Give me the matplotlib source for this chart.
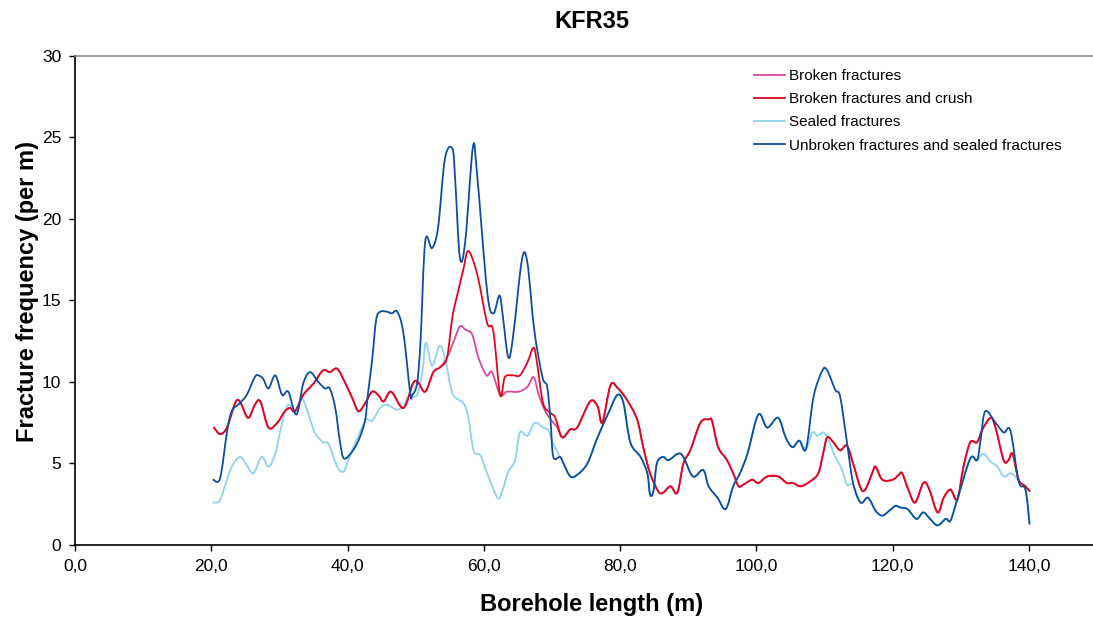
import matplotlib
matplotlib.use("Agg")
import numpy as np
import matplotlib.pyplot as plt
from matplotlib.path import Path
from matplotlib.patches import PathPatch
from matplotlib.lines import Line2D
from matplotlib.ticker import FuncFormatter

plt.rcParams['font.family'] = ['Liberation Sans', 'DejaVu Sans']

# Broken fractures and crush
crush_x = [20.4, 21.3, 22.3, 23.5, 24.2, 25.4, 26.4, 27.2, 28.4, 29.7, 30.8, 31.6, 32.3, 33.5,
           35.0, 36.4, 37.4, 38.5, 39.7, 40.7, 41.6, 42.6, 43.6, 44.5, 45.3, 46.4, 48.2, 49.6,
           50.3, 51.4, 52.6, 53.6, 54.6, 55.4, 56.2, 57.0, 57.6, 58.3, 59.2, 60.5, 61.4, 62.4,
           63.1, 64.3, 65.3, 66.4, 67.3, 67.8, 68.7, 69.8, 70.5, 71.5, 72.7, 73.7, 75.6, 76.7,
           77.4, 78.6, 79.7, 81.0, 82.5, 83.4, 84.4, 85.6, 86.3, 87.4, 88.4, 89.3, 90.3, 91.8,
           93.0, 93.5, 94.4, 95.7, 96.7, 97.4, 98.1, 99.4, 100.3, 101.6, 103.2, 104.5, 105.4,
           106.5, 107.9, 109.1, 109.8, 110.4, 111.3, 112.3, 113.3, 114.2, 115.3, 116.0, 117.0,
           117.5, 118.5, 120.0, 120.9, 121.4, 122.3, 123.3, 124.5, 125.3, 126.6, 127.5, 128.5,
           129.5, 130.4, 131.4, 132.4, 133.2, 134.4, 135.1, 136.3, 137.0, 137.6, 138.5, 139.5, 140.1]
crush_y = [7.2, 6.8, 7.2, 8.7, 8.8, 7.8, 8.6, 8.8, 7.2, 7.5, 8.2, 8.4, 8.2, 9.2,
           9.9, 10.7, 10.6, 10.8, 9.9, 9.0, 8.2, 8.7, 9.4, 9.2, 8.8, 9.4, 8.4, 9.9,
           10.0, 9.4, 10.6, 10.9, 11.5, 14.0, 15.5, 16.9, 18.0, 17.6, 16.3, 13.6, 13.1, 9.2,
           10.3, 10.4, 10.4, 11.2, 12.1, 11.2, 8.7, 8.1, 7.8, 6.6, 7.1, 7.2, 8.8, 8.5,
           7.5, 9.8, 9.6, 8.9, 7.7, 6.0, 4.4, 3.3, 3.2, 3.6, 3.2, 5.0, 5.8, 7.5,
           7.7, 7.6, 6.0, 5.2, 4.3, 3.6, 3.7, 4.0, 3.8, 4.2, 4.2, 3.8, 3.8,
           3.6, 3.9, 4.4, 5.6, 6.6, 6.3, 5.8, 6.1, 5.0, 3.5, 3.4, 4.4,
           4.8, 4.0, 4.0, 4.3, 4.4, 3.4, 2.6, 3.8, 3.5, 2.0, 2.9, 3.4,
           2.8, 4.8, 6.3, 6.3, 7.1, 7.8, 7.2, 5.2, 5.2, 5.6, 4.0, 3.6, 3.3]

# Broken fractures
broken_x = [20.4, 21.3, 22.3, 23.5, 24.2, 25.4, 26.4, 27.2, 28.4, 29.7, 30.8, 31.6, 32.3, 33.5,
            35.0, 36.4, 37.4, 38.5, 39.7, 40.7, 41.6, 42.6, 43.6, 44.5, 45.3, 46.4, 48.2, 49.6,
            50.3, 51.4, 52.6, 53.6, 54.6, 55.5, 56.5, 57.3, 58.3, 59.2, 60.4, 61.2, 62.4, 63.4,
            65.1, 66.4, 67.3, 68.0, 68.7, 69.3, 70.2, 70.8, 71.5, 72.7, 73.7, 75.6, 76.7,
            77.4, 78.6, 79.7, 81.0, 82.5, 83.4, 84.4, 85.6, 86.3, 87.4, 88.4, 89.3, 90.3, 91.8,
            93.0, 93.5, 94.4, 95.7, 96.7, 97.4, 98.1, 99.4, 100.3, 101.6, 103.2, 104.5, 105.4,
            106.5, 107.9, 109.1, 109.8, 110.4, 111.3, 112.3, 113.3, 114.2, 115.3, 116.0, 117.0,
            117.5, 118.5, 120.0, 120.9, 121.4, 122.3, 123.3, 124.5, 125.3, 126.6, 127.5, 128.5,
            129.5, 130.4, 131.4, 132.4, 133.2, 134.4, 135.1, 136.3, 137.0, 137.6, 138.5, 139.5, 140.1]
broken_y = [7.2, 6.8, 7.2, 8.7, 8.8, 7.8, 8.6, 8.8, 7.2, 7.5, 8.2, 8.4, 8.2, 9.2,
            9.9, 10.7, 10.6, 10.8, 9.9, 9.0, 8.2, 8.7, 9.4, 9.2, 8.8, 9.4, 8.4, 9.9,
            10.0, 9.4, 10.6, 10.9, 11.5, 12.4, 13.4, 13.2, 12.9, 11.5, 10.4, 10.6, 9.2, 9.4,
            9.4, 9.7, 10.3, 9.3, 8.5, 8.0, 7.5, 7.2, 6.6, 7.1, 7.2, 8.8, 8.5,
            7.5, 9.8, 9.6, 8.9, 7.7, 6.0, 4.4, 3.3, 3.2, 3.6, 3.2, 5.0, 5.8, 7.5,
            7.7, 7.6, 6.0, 5.2, 4.3, 3.6, 3.7, 4.0, 3.8, 4.2, 4.2, 3.8, 3.8,
            3.6, 3.9, 4.4, 5.6, 6.6, 6.3, 5.8, 6.1, 5.0, 3.5, 3.4, 4.4,
            4.8, 4.0, 4.0, 4.3, 4.4, 3.4, 2.6, 3.8, 3.5, 2.0, 2.9, 3.4,
            2.8, 4.8, 6.3, 6.3, 7.1, 7.8, 7.2, 5.2, 5.2, 5.6, 4.0, 3.6, 3.3]

# Unbroken fractures and sealed fractures
unbroken_x = [20.3, 21.3, 22.3, 23.0, 24.2, 25.2, 26.4, 26.9, 27.6, 28.4, 29.4, 30.4, 31.3, 32.5,
              33.5, 34.5, 35.7, 36.7, 37.4, 38.2, 38.9, 39.5, 40.8, 41.8, 42.6, 43.0, 43.6, 44.2,
              44.8, 45.8, 46.5, 47.3, 48.2, 49.2, 49.5, 50.2, 50.7, 51.4, 52.4, 53.3, 54.3, 55.4,
              55.8, 56.5, 57.3, 58.4, 59.0, 60.5, 61.4, 62.3, 62.8, 63.6, 64.3, 65.6, 66.4, 67.4,
              68.6, 69.3, 69.8, 70.2, 71.2, 71.7, 72.7, 73.7, 75.2, 76.7, 78.3, 79.6, 80.5, 81.5,
              83.0, 84.0, 84.4, 84.9, 85.4, 86.3, 87.1, 88.5, 89.3, 90.7, 92.2, 93.0, 94.3, 95.5,
              96.6, 97.6, 98.7, 100.3, 101.6, 103.2, 104.3, 105.3, 106.3, 107.3, 108.4, 109.7,
              110.4, 111.6, 112.3, 113.3, 114.2, 115.3, 116.4, 117.5, 118.5, 119.5, 120.4, 121.1,
              122.2, 123.5, 124.5, 125.5, 126.6, 127.8, 128.5, 129.5, 131.4, 132.4, 132.9, 133.6,
              135.1, 136.3, 137.3, 138.5, 139.5, 140.1]
unbroken_y = [4.0, 4.1, 6.9, 8.2, 8.7, 9.2, 10.3, 10.4, 10.2, 9.6, 10.4, 9.2, 9.4, 8.0,
              9.9, 10.6, 10.0, 9.6, 9.6, 8.4, 6.3, 5.3, 5.8, 6.6, 7.7, 9.3, 11.3, 13.8,
              14.3, 14.3, 14.2, 14.3, 13.0, 9.3, 9.2, 9.9, 12.4, 18.6, 18.2, 19.5, 23.7, 24.3,
              22.4, 17.6, 18.7, 24.4, 22.8, 15.5, 14.2, 15.3, 14.0, 11.5, 12.8, 17.5, 17.3, 13.2,
              10.3, 9.7, 7.6, 5.4, 5.4, 5.0, 4.2, 4.3, 5.0, 6.6, 8.1, 9.2, 8.7, 6.3,
              5.4, 4.4, 3.1, 3.3, 5.0, 5.4, 5.2, 5.6, 5.4, 4.2, 4.6, 3.6, 2.9, 2.2,
              3.6, 4.4, 5.6, 8.0, 7.2, 7.8, 6.6, 6.0, 6.4, 5.9, 9.1, 10.7,
              10.7, 9.5, 9.1, 6.3, 3.8, 2.6, 2.9, 2.1, 1.8, 2.1, 2.4, 2.3,
              2.2, 1.6, 2.0, 1.6, 1.2, 1.6, 1.5, 2.8, 5.3, 5.2, 6.4, 8.2,
              7.5, 6.9, 7.0, 3.9, 3.4, 1.3]

# Sealed fractures
sealed_x = [20.3, 21.2, 22.0, 23.0, 24.2, 25.2, 26.2, 27.4, 28.4, 29.4, 30.4, 31.3, 32.3, 33.3,
            34.2, 35.2, 36.4, 37.2, 38.5, 39.4, 40.1, 41.8, 42.8, 43.6, 44.8, 45.8, 47.2, 48.2,
            48.9, 50.2, 51.0, 51.5, 52.4, 53.5, 54.3, 55.4, 57.0, 57.7, 58.5, 59.5, 60.5, 62.0,
            62.7, 63.6, 64.6, 65.3, 66.4, 67.5, 68.7, 69.5, 70.2, 71.2, 71.7, 72.7, 73.7, 75.2,
            76.7, 78.3, 79.6, 80.5, 81.5, 83.0, 84.0, 84.4, 84.9, 85.4, 86.3, 87.1, 88.5, 89.3,
            90.7, 92.2, 93.0, 94.3, 95.5, 96.6, 97.6, 98.7, 100.3, 101.6, 103.2, 104.3, 105.3,
            106.3, 107.3, 108.2, 109.0, 109.8, 110.4, 111.6, 112.6, 113.3, 114.2, 115.3, 116.4,
            117.5, 118.5, 119.5, 120.4, 121.1, 122.2, 123.5, 124.5, 125.5, 126.6, 127.8, 128.5,
            129.5, 131.4, 132.4, 133.3, 134.4, 135.4, 136.3, 137.3, 138.0, 138.5, 139.5, 140.1]
sealed_y = [2.6, 2.7, 3.6, 4.8, 5.4, 4.9, 4.4, 5.4, 4.8, 5.6, 7.5, 8.6, 8.2, 9.0,
            8.1, 6.9, 6.3, 6.2, 4.8, 4.5, 5.2, 6.9, 7.7, 7.6, 8.4, 8.6, 8.3, 8.5,
            9.1, 9.2, 10.7, 12.4, 11.0, 12.2, 11.5, 9.3, 8.7, 7.9, 5.8, 5.5, 4.4, 2.9,
            3.3, 4.5, 5.2, 6.9, 6.7, 7.5, 7.2, 7.0, 6.2, 5.4, 5.0, 4.2, 4.3, 5.0,
            6.6, 8.1, 9.2, 8.7, 6.3, 5.4, 4.4, 3.1, 3.3, 5.0, 5.4, 5.2, 5.6, 5.4,
            4.2, 4.6, 3.6, 2.9, 2.2, 3.6, 4.4, 5.6, 8.0, 7.2, 7.8, 6.6, 6.0,
            6.4, 5.9, 6.9, 6.7, 6.9, 6.6, 5.4, 4.6, 3.7, 3.7, 2.6, 2.9,
            2.1, 1.8, 2.1, 2.4, 2.3, 2.2, 1.6, 2.0, 1.6, 1.2, 1.6, 1.5,
            2.8, 5.3, 5.2, 5.6, 5.1, 4.8, 4.2, 4.4, 4.2, 3.9, 3.4, 1.3]

series = [
    ('Broken fractures', broken_x, broken_y, '#d9489c', 2),
    ('Broken fractures and crush', crush_x, crush_y, '#e2061c', 3),
    ('Sealed fractures', sealed_x, sealed_y, '#8ed2ee', 2),
    ('Unbroken fractures and sealed fractures', unbroken_x, unbroken_y, '#0b4fa0', 4),
]


def smooth_path(x, y):
    # smoothed line like the spreadsheet's: cubic bezier through every point
    p = np.column_stack([x, y])
    n = len(p)
    verts = [p[0]]
    codes = [Path.MOVETO]
    for i in range(n - 1):
        p0 = p[i - 1] if i > 0 else p[i]
        p3 = p[i + 2] if i + 2 < n else p[i + 1]
        c1 = p[i] + (p[i + 1] - p0) / 6
        c2 = p[i + 1] - (p3 - p[i]) / 6
        verts += [c1, c2, p[i + 1]]
        codes += [Path.CURVE4] * 3
    return Path(verts, codes)


fig = plt.figure(figsize=(10.93, 6.24), dpi=100)
ax = fig.add_axes([75 / 1093, 79 / 624, 1022 / 1093, 489.3 / 624])

handles = []
for name, xs, ys, col, z in series:
    ax.add_patch(PathPatch(smooth_path(xs, ys), fill=False, edgecolor=col, lw=1.3,
                           zorder=z, capstyle='round', joinstyle='round'))
    handles.append(Line2D([], [], color=col, lw=1.3, label=name))

ax.set_xlim(0, 150)
ax.set_ylim(0, 30)
ax.set_xticks(range(0, 141, 20))
ax.set_yticks(range(0, 31, 5))
ax.xaxis.set_major_formatter(FuncFormatter(lambda v, p: f"{v:.1f}".replace('.', ',')))
ax.tick_params(labelsize=12.5, length=4, width=1, pad=6, direction='out')

for s in ['left', 'bottom']:
    ax.spines[s].set_color('black')
    ax.spines[s].set_linewidth(1.2)
for s in ['top', 'right']:
    ax.spines[s].set_color('#8c8c8c')
    ax.spines[s].set_linewidth(1.2)

ax.legend(handles=handles, loc='upper left', bbox_to_anchor=(748 / 1093, 1 - 63 / 624),
          bbox_transform=fig.transFigure, frameon=False, fontsize=11,
          handlelength=2.0, handletextpad=0.3, labelspacing=0.6, borderaxespad=0)

fig.text(592 / 1093, 1 - 22 / 624, 'KFR35', ha='center', va='center', fontsize=17, fontweight='bold')
fig.text(592 / 1093, 1 - 605 / 624, 'Borehole length (m)', ha='center', va='center',
         fontsize=17, fontweight='bold')
fig.text(28 / 1093, 1 - 292 / 624, 'Fracture frequency (per m)', ha='center', va='center',
         rotation=90, fontsize=17, fontweight='bold')

fig.savefig('out.png', dpi=100)
